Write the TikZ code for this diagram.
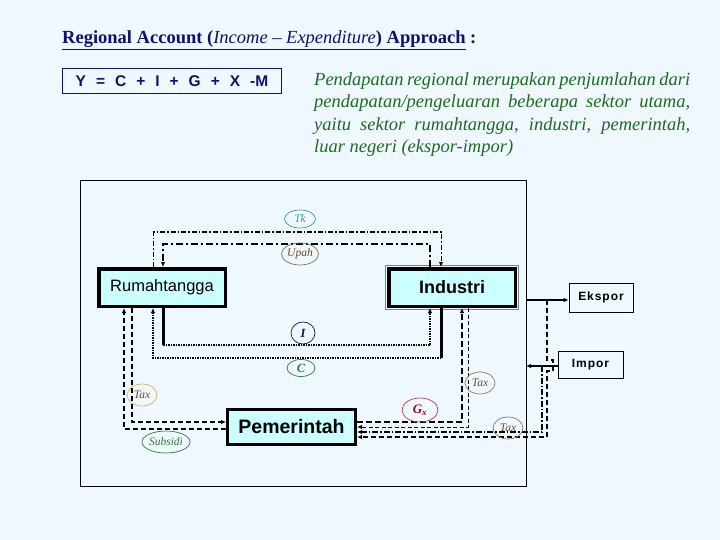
\documentclass[tikz,border=0pt]{standalone}
\usepackage{fontspec}
\setmainfont{Liberation Serif}
\setsansfont{Liberation Sans}
\usetikzlibrary{arrows.meta,shapes.geometric}
\definecolor{bg}{HTML}{F0F8FF}
\definecolor{navy}{HTML}{10106E}
\definecolor{boxfill}{HTML}{CCFFFF}
\definecolor{dkgreen}{HTML}{1E6B1E}
\definecolor{teal2}{HTML}{3A9A9A}
\definecolor{brownA}{HTML}{8B6B4B}
\definecolor{brownT}{HTML}{6B4A2A}
\definecolor{goldA}{HTML}{D4B44A}
\definecolor{olive2}{HTML}{8B7B5B}
\definecolor{redA}{HTML}{CC3344}
\definecolor{redT}{HTML}{990022}
\definecolor{greenA}{HTML}{2E7D32}
\tikzset{
  arr/.style={-{Latex[length=5pt,width=4.5pt]}},
  sector/.style={draw, fill=boxfill, line width=3.5pt, inner sep=0pt, font=\sffamily},
  ext/.style={draw, line width=0.8pt, inner sep=0pt, font=\sffamily\bfseries\fontsize{12}{14}\selectfont\addfontfeature{LetterSpace=8}},
  lbl/.style={ellipse, draw, inner sep=0pt, line width=0.7pt, font=\itshape\fontsize{11.5}{12}\selectfont},
  tkline/.style={line width=1pt, dash pattern=on 5pt off 2pt on 1.5pt off 2pt},
  upahline/.style={line width=2pt, dash pattern=on 7pt off 3pt on 2pt off 3pt},
  solidthick/.style={line width=3pt},
  dotline/.style={line width=2.5pt, dash pattern=on 1.5pt off 1pt},
  dashthick/.style={line width=2pt, dash pattern=on 6pt off 3pt},
  dashmid/.style={line width=1.5pt, dash pattern=on 5pt off 3pt},
  dashthin/.style={line width=1pt, dash pattern=on 4pt off 2.5pt},
  dashdot2/.style={line width=1.2pt, dash pattern=on 6pt off 2pt on 1.5pt off 2pt},
}
\begin{document}
\begin{tikzpicture}[x=1pt,y=-1pt]
\useasboundingbox[fill=bg] (0,0) rectangle (720,540);

% title
\node[anchor=base west, inner sep=0pt, text=navy, font=\fontsize{18.5}{21}\selectfont] (title) at (62,44)
  {\textbf{\underline{Regional Account (\textit{\mdseries Income -- Expenditure}) Approach}} \textbf{:}};

% formula
\node[draw=navy, line width=1.3pt, minimum width=219pt, minimum height=25pt, inner sep=0pt, text=navy,
  font=\sffamily\bfseries\fontsize{15.5}{18}\selectfont] (eq) at (172,81)
  {\spaceskip=10pt Y = C + I + G + X -M};

% paragraph
\node[anchor=north west, inner sep=0pt, text width=376pt, align=justify, text=dkgreen,
  font=\itshape\fontsize{18.5}{22.5}\selectfont] (para) at (314,72)
  {Pendapatan regional merupakan penjumlahan dari\linebreak
   pendapatan/pengeluaran beberapa sektor utama,\linebreak
   yaitu sektor rumahtangga, industri, pemerintah,\linebreak
   luar negeri (ekspor-impor)};

% frame
\draw[line width=0.8pt] (80,180) rectangle (526,486);
\coordinate (fe) at (526,300);
\coordinate (fi) at (526,366);

% sector boxes
\node[sector, minimum width=126.5pt, minimum height=37.5pt, font=\sffamily\fontsize{16.5}{18}\selectfont] (rt) at (162,287.5) {\raisebox{3pt}{Rumahtangga}};
\draw[line width=0.6pt, gray] (385.5,265.5) rectangle (518.5,309.5);
\node[sector, minimum width=126.5pt, minimum height=37.5pt, font=\sffamily\bfseries\fontsize{18}{20}\selectfont] (ind) at (452,287.5) {Industri};
\node[sector, line width=3pt, minimum width=128pt, minimum height=35pt, font=\sffamily\bfseries\fontsize{19.5}{22}\selectfont] (pem) at (291.5,427) {Pemerintah};

\node[ext, minimum width=64pt, minimum height=29pt] (eks) at (601,297.5) {Ekspor};
\node[ext, minimum width=65pt, minimum height=27pt] (imp) at (590.5,364.5) {Impor};

% Tk and Upah
\draw[tkline, arr] (153,0 |- rt.north) -- (153,232) -- (441,232) -- (441,0 |- ind.north);
\draw[upahline, arr] (430,0 |- ind.north) -- (430,244) -- (163,244) -- (163,0 |- rt.north);

% I and C
\draw[solidthick] (163,0 |- rt.south) -- (163,345);
\draw[dotline, arr] (163,345) -- (430,345) -- (430,0 |- ind.south);
\draw[solidthick] (441,0 |- ind.south) -- (441,358);
\draw[dotline, arr] (441,358) -- (153,358) -- (153,0 |- rt.south);

% Tax and Subsidi (households)
\draw[dashmid, arr] (132,0 |- rt.south) -- (132,422) -- (pem.west |- 0,422);
\draw[dashmid, arr] (pem.west |- 0,429) -- (124,429) -- (124,0 |- rt.south);

% Gx and Tax (industry)
\draw[dashthick, arr] (pem.east |- 0,422) -- (462,422) -- (462,0 |- ind.south);
\draw[dashthin, arr] (468,0 |- ind.south) -- (468,427) -- (pem.east |- 0,427);

% external trade
\draw[line width=2pt, arr] (fe) -- (eks.west |- fe);
\draw[line width=2pt, arr] (imp.west |- fi) -- (fi);
\draw[dashdot2, arr] (542,366) -- (542,432) -- (pem.east |- 0,432);
\draw[line width=1.2pt, dash pattern=on 5pt off 3pt, arr] (547,300) -- (547,360) -- (553,360) -- (553,371) -- (547,371) -- (547,437) -- (pem.east |- 0,437);

% labels
\node[lbl, draw=teal2, text=teal2, minimum width=31pt, minimum height=18pt] (tk) at (300,219) {Tk};
\node[lbl, draw=brownA, text=brownT, minimum width=37pt, minimum height=22pt] (upah) at (300,254) {Upah};
\node[lbl, draw=navy, text=navy, minimum width=24pt, minimum height=22pt, font=\bfseries\itshape\fontsize{12.5}{13}\selectfont] (il) at (303,333) {I};
\node[lbl, draw=greenA, text=greenA, minimum width=28pt, minimum height=17pt, font=\bfseries\itshape\fontsize{12.5}{13}\selectfont] (cl) at (301,368) {C};
\node[lbl, draw=goldA, text=brownT, minimum width=30pt, minimum height=22pt] (taxl) at (142,395) {Tax};
\node[lbl, draw=greenA, text=greenA, minimum width=48pt, minimum height=22pt] (sub) at (166,442) {Subsidi};
\node[lbl, draw=redA, text=redT, minimum width=36pt, minimum height=24pt, font=\bfseries\itshape\fontsize{13}{14}\selectfont] (gx) at (420,410) {G\textsubscript{x}};
\node[lbl, draw=olive2, text=brownT, minimum width=30pt, minimum height=22pt] (taxi) at (480,383) {Tax};
\node[lbl, draw=olive2, text=brownT, minimum width=30pt, minimum height=22pt] (taxm) at (508,428) {Tax};
\end{tikzpicture}
\end{document}
